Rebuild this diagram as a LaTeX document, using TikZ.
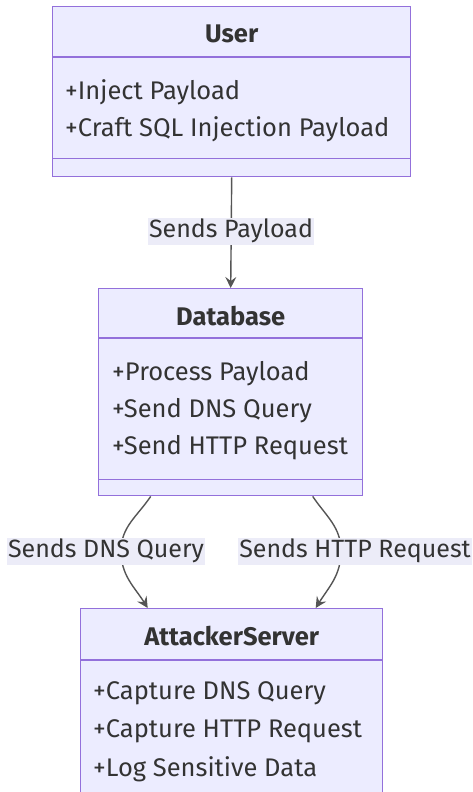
\documentclass[tikz,border=0pt]{standalone}
\usepackage{fontspec}
\setmainfont{Fira Sans}
\usetikzlibrary{arrows.meta}
\definecolor{boxfill}{HTML}{ECECFF}
\definecolor{boxline}{HTML}{9370DB}
\definecolor{txt}{HTML}{333333}
\definecolor{edgecol}{HTML}{555555}
\definecolor{lblfill}{HTML}{ECECF8}
\tikzset{
  classbox/.style={draw=boxline, fill=boxfill, line width=1.4pt, anchor=north west, inner sep=0pt},
  divider/.style={draw=boxline, line width=1.4pt},
  title/.style={text=txt, font=\fontsize{25.5}{30}\selectfont\bfseries, inner sep=0pt},
  member/.style={text=txt, font=\fontsize{25.5}{30}\selectfont, anchor=west, inner sep=0pt},
  edgelbl/.style={text=txt, font=\fontsize{25}{30}\selectfont, fill=lblfill, inner xsep=1pt, inner ysep=0pt, minimum height=27pt},
  edge/.style={draw=edgecol, line width=1.4pt, -{Stealth[length=11pt,width=11pt,inset=4pt]}},
}
\begin{document}
\begin{tikzpicture}[x=1pt,y=1pt]
\useasboundingbox (0,0) rectangle (473,-792);

% User class
\node[classbox, minimum width=358, minimum height=170] (user) at (52,-6) {};
\draw[divider] ([yshift=-51]user.north west) -- ([yshift=-51]user.north east);
\draw[divider] ([yshift=19]user.south west) -- ([yshift=19]user.south east);
\node[title] (userT) at ([yshift=-28]user.north) {User};
\node[member] (userM1) at (65,-92) {+Inject Payload};
\node[member] (userM2) at (65,-129) {+Craft SQL Injection Payload};

% Database class
\node[classbox, minimum width=264, minimum height=207] (db) at (98,-288) {};
\draw[divider] ([yshift=-50]db.north west) -- ([yshift=-50]db.north east);
\draw[divider] ([yshift=17]db.south west) -- ([yshift=17]db.south east);
\node[title] (dbT) at ([yshift=-28]db.north) {Database};
\node[member] (dbM1) at (112,-374) {+Process Payload};
\node[member] (dbM2) at (112,-411) {+Send DNS Query};
\node[member] (dbM3) at (112,-448) {+Send HTTP Request};

% AttackerServer class
\node[classbox, minimum width=302, minimum height=230] (as) at (80,-608) {};
\draw[divider] ([yshift=-52]as.north west) -- ([yshift=-52]as.north east);
\node[title] (asT) at ([yshift=-28]as.north) {AttackerServer};
\node[member] (asM1) at (93,-693) {+Capture DNS Query};
\node[member] (asM2) at (93,-731) {+Capture HTTP Request};
\node[member] (asM3) at (93,-769) {+Log Sensitive Data};

% relations
\coordinate (dbL) at ([xshift=-80]db.south);
\coordinate (dbR) at ([xshift=82]db.south);
\coordinate (asL) at ([xshift=-84]as.north);
\coordinate (asR) at ([xshift=84]as.north);
\coordinate (dnsC) at (121,-551);
\coordinate (httpC) at (341,-551);

\draw[edge] (user.south) -- (db.north);
\draw[edge] (dbL) to[out=-124,in=90] (dnsC) to[out=-90,in=122] (asL);
\draw[edge] (dbR) to[out=-56,in=90] (httpC) to[out=-90,in=58] (asR);

\node[edgelbl] (payL) at (231,-231) {Sends Payload};
\node[edgelbl] (dnsL) at (106,-551) {Sends DNS Query};
\node[edgelbl] (httpL) at (355,-551) {Sends HTTP Request};
\end{tikzpicture}
\end{document}
